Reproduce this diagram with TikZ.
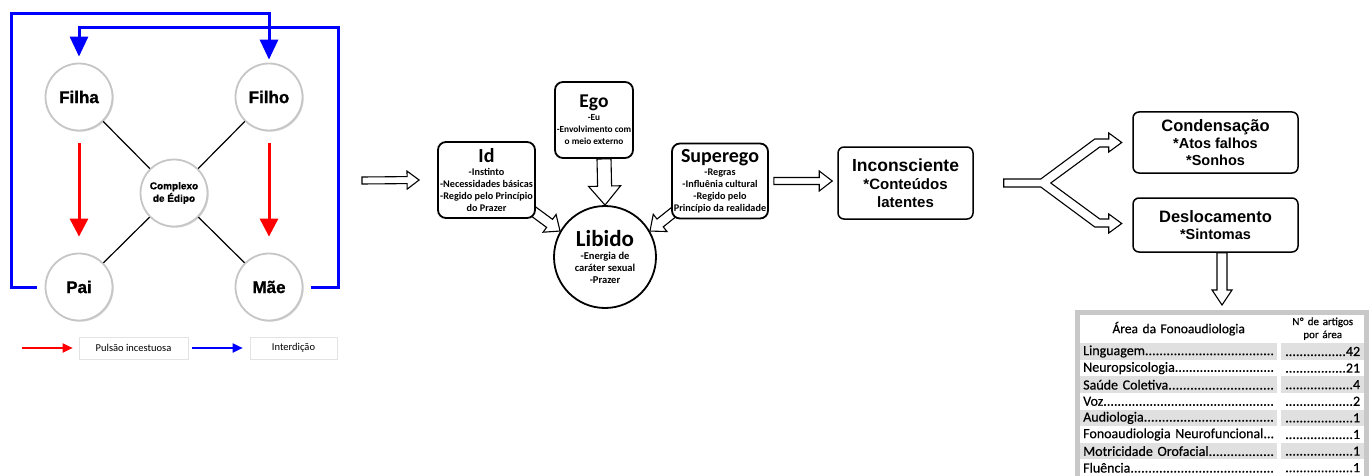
\documentclass[tikz,border=0pt]{standalone}
\usepackage{fontspec}
\setmainfont{Carlito}
\newfontfamily\arialfont{Liberation Sans}
\newfontfamily\heavyfont[BoldFeatures={FakeBold=1.2}]{Liberation Sans}
\newfontfamily\tabfont[FakeBold=0.5]{Carlito}
\usepackage{xcolor}
\usetikzlibrary{arrows.meta,positioning,calc,shadows,backgrounds}

\definecolor{pulsred}{RGB}{255,0,0}
\definecolor{interblue}{RGB}{0,0,255}
\definecolor{tabframe}{RGB}{200,200,200}
\definecolor{rowgray}{RGB}{224,224,224}

% hollow block arrow: from, to, shaft half-width, head half-width, head length
\newcommand\fatarrow[5]{%
  \draw[fat] let \p1=(#1), \p2=(#2), \n1={atan2(\y2-\y1,\x2-\x1)},
      \n2={veclen(\x2-\x1,\y2-\y1)} in
    [shift={(\p1)}, rotate=\n1]
    (0pt,#3pt) -- ({(\n2-#5)*1pt},#3pt) -- ({(\n2-#5)*1pt},#4pt) -- ({\n2*1pt},0pt)
    -- ({(\n2-#5)*1pt},-#4pt) -- ({(\n2-#5)*1pt},-#3pt) -- (0pt,-#3pt) -- cycle;
}
\newcommand\psyhead[2]{{\fontsize{#1}{#1}\selectfont #2}\\[1pt]}
\newcommand\dotsto{\xleaders\hbox{.}\hfill}

\begin{document}
\begin{tikzpicture}[
  x=1pt, y=-1pt,
  person/.style={circle, draw=gray!45, line width=1.8pt, fill=white,
    minimum size=67pt, inner sep=0pt,
    font=\heavyfont\bfseries\fontsize{17}{17}\selectfont,
    drop shadow={shadow xshift=1.2pt, shadow yshift=-1.2pt, opacity=0.3, fill=gray}},
  tie/.style={line width=1.2pt},
  pulsao/.style={-{Triangle[length=18pt,width=18pt]}, line width=3pt, pulsred},
  interd/.style={-{Triangle[length=20pt,width=18pt]}, line width=3pt, interblue},
  legarr/.style={-{Triangle[length=10pt,width=9pt]}, line width=1.8pt},
  legbox/.style={draw=gray!22, line width=0.6pt, fill=white, minimum height=22pt,
    font=\fontsize{10.5}{12}\selectfont},
  psy/.style={draw, rounded corners=8pt, line width=1.8pt, fill=white, align=center,
    inner sep=1pt, font=\bfseries\fontsize{10.2}{12}\selectfont},
  cbox/.style={draw, rounded corners=6pt, line width=1.5pt, fill=white, align=center,
    inner sep=1pt, font=\arialfont\bfseries\fontsize{14.5}{17}\selectfont},
  fat/.style={draw, fill=white, line width=1.1pt, line join=miter},
  hcell/.style={anchor=north west, inner xsep=3pt, inner ysep=0pt, minimum height=27pt,
    align=center},
  cellL/.style={anchor=north west, inner xsep=3pt, inner ysep=0pt, minimum height=16.6pt,
    text width=191pt, font=\tabfont\fontsize{14}{16}\selectfont},
  cellR/.style={anchor=north west, inner xsep=4pt, inner ysep=0pt, minimum height=16.6pt,
    text width=75pt, font=\tabfont\fontsize{14}{16}\selectfont}
]
\useasboundingbox (0,0) rectangle (1372,476);

% Oedipus square
\node[person] (filha) at (79,97)  {Filha};
\node[person] (filho) at (269,97) {Filho};
\node[person] (pai)   at (79,287) {Pai};
\node[person] (mae)   at (269,287) {Mãe};
\node[person, align=center, font=\heavyfont\bfseries\fontsize{10}{12.5}\selectfont]
  (edipo) at (174,193) {Complexo\\de Édipo};

\draw[tie] (filha) -- (edipo);
\draw[tie] (filho) -- (edipo);
\draw[tie] (pai) -- (edipo);
\draw[tie] (mae) -- (edipo);

\draw[pulsao] ([yshift=-12pt]filha.south) -- ([yshift=16pt]pai.north);
\draw[pulsao] ([yshift=-12pt]filho.south) -- ([yshift=16pt]mae.north);

\draw[interd] ([xshift=-8pt]pai.west) -| (11,14) -| ([yshift=3pt]filho.north);
\draw[interd] ([xshift=8pt]mae.east) -| (338,28) -| ([yshift=6pt]filha.north);

% Legend
\node[legbox, minimum width=109pt] (legp) at (133.5,348) {Pulsão incestuosa};
\node[legbox, minimum width=87pt]  (legi) at (293.5,348) {Interdição};
\coordinate (legstart) at (22,348);
\draw[legarr, pulsred] (legstart) -- ([xshift=-6pt]legp.west);
\draw[legarr, interblue] ([xshift=4pt]legp.east) -- ([xshift=-7pt]legi.west);

% Id, Ego, Superego
\node[psy, minimum width=97pt, minimum height=76pt] (id) at (486.5,180)
  {\psyhead{20}{Id}-Instinto\\-Necessidades básicas\\-Regido pelo Princípio\\do Prazer};
\node[psy, minimum width=78pt, minimum height=76pt,
  font=\bfseries\fontsize{9.3}{12}\selectfont] (ego) at (594,120)
  {\psyhead{19.5}{Ego}-Eu\\-Envolvimento com\\o meio externo};
\node[psy, minimum width=96pt, minimum height=75pt] (superego) at (720,181)
  {\psyhead{20}{Superego}-Regras\\-Influênia cultural\\-Regido pelo\\Princípio da realidade};
\node[psy, circle, minimum size=102pt, inner sep=0pt,
  font=\bfseries\fontsize{10.5}{12}\selectfont] (libido) at (605,257)
  {\psyhead{23}{Libido}-Energia de\\caráter sexual\\-Prazer};

% Unconscious
\node[cbox, minimum width=135pt, minimum height=72pt,
  font=\arialfont\bfseries\fontsize{15}{18}\selectfont] (incons) at (905.5,183)
  {{\fontsize{17.5}{18}\selectfont Inconsciente}\\*Conteúdos\\latentes};
\node[cbox, minimum width=165pt, minimum height=61pt] (conden) at (1215.5,142.5)
  {{\fontsize{16.5}{17}\selectfont Condensação}\\*Atos falhos\\*Sonhos};
\node[cbox, minimum width=165pt, minimum height=54pt] (desloc) at (1215.5,225)
  {{\fontsize{16.5}{17}\selectfont Deslocamento}\\*Sintomas};

\coordinate (instart) at (362,180.5);
\coordinate (fork) at ([xshift=30pt]incons.east);
\coordinate (tabtop) at (1222,305);

% Block arrows
\begin{pgfonlayer}{background}
\fatarrow{instart}{[xshift=-18pt]id.west}{3.5}{9}{12}
\fatarrow{[xshift=10pt]ego.south}{libido.north}{7}{16}{19}
\fatarrow{[xshift=-6pt,yshift=10pt]id.south east}{libido.150}{5}{11}{13}
\fatarrow{[xshift=6pt,yshift=10pt]superego.south west}{libido.30}{5}{11}{13}
\fatarrow{[xshift=5pt]superego.east}{[xshift=-5pt]incons.west |- superego.east}{3.5}{10}{13}
\fatarrow{[xshift=6.5pt]desloc.south}{tabtop}{5}{10}{15}
\end{pgfonlayer}
\draw[fat, shift={(fork)}] (0,-4) -- (37,-4) -- (91,-44) -- (105,-44) -- (105,-50)
  -- (118,-40.5) -- (105,-31) -- (105,-36) -- (96,-36) -- (47,0)
  -- (96,36) -- (105,36) -- (105,31) -- (118,40.5) -- (105,50) -- (105,44)
  -- (91,44) -- (37,4) -- (0,4) -- cycle;

% Table
\fill[tabframe] (1075,310) rectangle (1369,476);
\fill[white] (1080,315) rectangle (1364,476);
\node[hcell, text width=191pt, font=\tabfont\fontsize{13.5}{15}\selectfont] (harea)
  at (1080,315) {Área da Fonoaudiologia};
\node[hcell, text width=75pt, inner xsep=4pt, font=\tabfont\fontsize{11}{13}\selectfont]
  (hnum) at (1281,315) {Nº de artigos\\por área};
\foreach \area/\num/\shade [count=\i from 0] in {Linguagem/42/rowgray,
    Neuropsicologia/21/white, Saúde Coletiva/4/rowgray, Voz/2/white,
    Audiologia/1/rowgray, Fonoaudiologia Neurofuncional/1/white,
    Motricidade Orofacial/1/rowgray, Fluência/1/white} {
  \node[cellL, fill=\shade] (a\i) at (1080,{343+16.6*\i}) {\hbox to 191pt{\area\dotsto}};
  \node[cellR, fill=\shade] (n\i) at (1281,{343+16.6*\i}) {\hbox to 75pt{\dotsto\num}};
}
\end{tikzpicture}
\end{document}
